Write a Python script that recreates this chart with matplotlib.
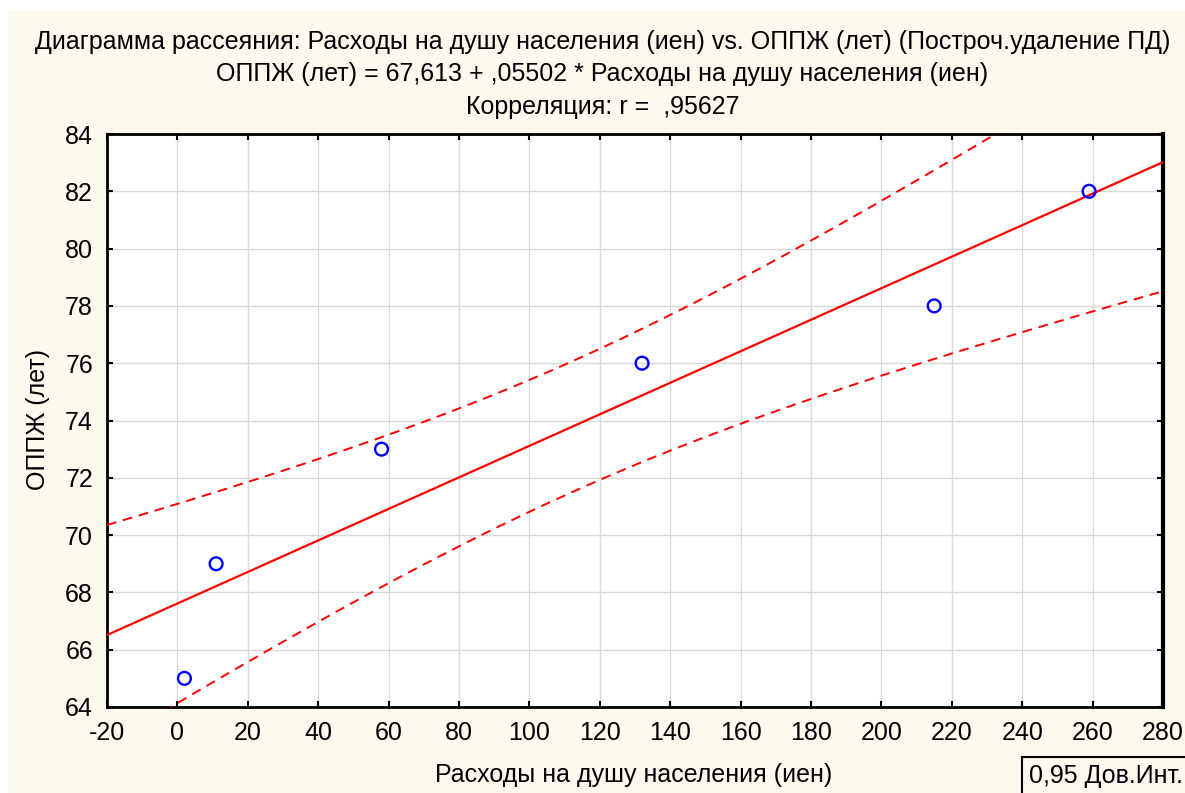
import numpy as np
import matplotlib.pyplot as plt
from matplotlib.patches import Rectangle

plt.rcParams['font.family'] = ['Liberation Sans', 'DejaVu Sans']
plt.rcParams['axes.unicode_minus'] = False

# data
spend = [2, 11, 58, 132, 215, 259]
life = [65, 69, 73, 76, 78, 82]
b0, b1 = 67.613, 0.05502
t_crit = 2.776445  # t(0.975, df=4)

xticks = list(range(-20, 281, 20))
yticks = list(range(64, 85, 2))

titles = ['Диаграмма рассеяния: Расходы на душу населения (иен) vs. ОППЖ (лет) (Построч.удаление ПД)',
          'ОППЖ (лет) = 67,613 + ,05502 * Расходы на душу населения (иен)',
          'Корреляция: r =  ,95627']

# regression line and 95% confidence band
x = np.array(spend, float)
y = np.array(life, float)
n = len(x)
res = y - (b0 + b1 * x)
s = np.sqrt((res ** 2).sum() / (n - 2))
sxx = ((x - x.mean()) ** 2).sum()
xx = np.linspace(-20, 280, 300)
fit = b0 + b1 * xx
hw = t_crit * s * np.sqrt(1.0 / n + (xx - x.mean()) ** 2 / sxx)

W, H = 1185, 793
fig = plt.figure(figsize=(W / 100, H / 100), dpi=100)
fig.patch.set_facecolor('white')
fig.add_artist(Rectangle((8 / W, 0), 1, 1 - 10 / H, transform=fig.transFigure,
                         facecolor='#FDF9EF', edgecolor='none', zorder=0))

ax = fig.add_axes([107 / W, 1 - 707 / H, (1163 - 107) / W, (707 - 134) / H])
ax.set_facecolor('white')
ax.plot(xx, fit, color='red', lw=1.6, zorder=3)
ax.plot(xx, fit + hw, color='red', lw=1.4, ls=(0, (5, 3.5)), zorder=3)
ax.plot(xx, fit - hw, color='red', lw=1.4, ls=(0, (5, 3.5)), zorder=3)
ax.scatter(spend, life, s=85, facecolors='none', edgecolors='blue', linewidths=1.7, zorder=4)

ax.set_xlim(-20, 280)
ax.set_ylim(64, 84)
ax.set_xticks(xticks)
ax.set_yticks(yticks)
ax.grid(True, color='#d9d9d9', lw=1)
ax.set_axisbelow(True)
ax.tick_params(direction='in', length=4, width=1.5, labelsize=18, pad=10,
               top=True, right=True, color='black')
for side in ['left', 'bottom', 'top']:
    ax.spines[side].set_linewidth(2)
ax.spines['right'].set_linewidth(3)

fig.text(634 / W, 1 - 775 / H, 'Расходы на душу населения (иен)', fontsize=18, ha='center', va='center')
fig.text(38 / W, 1 - 420 / H, 'ОППЖ (лет)', fontsize=18, ha='center', va='center', rotation=90)

for i, t in enumerate(titles):
    fig.text(0.5 + 10 / W, 1 - (42 + 32.5 * i) / H, t, ha='center', va='center', fontsize=18)

fig.text(1029 / W, 1 - 776 / H, '0,95 Дов.Инт.', fontsize=18, va='center', ha='left',
         bbox=dict(boxstyle='square,pad=0.3', facecolor='#FDF9EF', edgecolor='black', lw=1.5))

fig.savefig('out.png', dpi=100, facecolor=fig.get_facecolor())
